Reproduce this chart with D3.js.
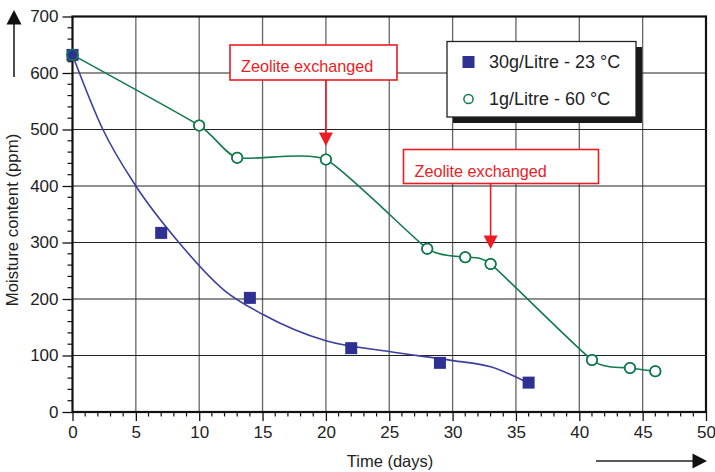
<!DOCTYPE html>
<html>
<head>
<meta charset="utf-8">
<script src="https://cdn.jsdelivr.net/npm/d3@7"></script>
<style>
  html, body { margin: 0; padding: 0; background: #fff; }
  svg { display: block; font-family: "Liberation Sans", Arial, Helvetica, sans-serif; }
</style>
</head>
<body>
<svg id="chart" width="715" height="472"></svg>
<script>
// 30 g/L zeolite at 23 °C: measured points
const days30g = [0, 7, 14, 22, 29, 36];
const moisture30g = [632, 317, 202, 113, 87, 52];
// smooth trend drawn through the 30 g/L measurements
const trendDays30g = [0, 2.4, 5, 8.4, 12, 15, 20, 25, 30, 33, 36];
const trendMoisture30g = [632, 500, 400, 300, 215, 173, 126, 107, 91, 80, 51];
// 1 g/L zeolite at 60 °C: measured points
const days1g = [0, 10, 13, 20, 28, 31, 33, 41, 44, 46];
const moisture1g = [632, 507, 450, 447, 289, 274, 262, 92, 78, 72];
// zeolite exchange events
const exchangeDays = [20, 33];
const exchangeLabel = "Zeolite exchanged";
const xTicks = [0, 5, 10, 15, 20, 25, 30, 35, 40, 45, 50];
const yTicks = [0, 100, 200, 300, 400, 500, 600, 700];
const legendLabels = ["30g/Litre - 23 \u00b0C", "1g/Litre - 60 \u00b0C"];

const svg = d3.select("#chart");
const x = d3.scaleLinear().domain([0, 50]).range([72.5, 706]);
const y = d3.scaleLinear().domain([0, 700]).range([412, 16.5]);

const blue = "#2e3192", blueLine = "#3b3f9e", green = "#127a4c", red = "#ec1c24";

// grid
const grid = svg.append("g");
grid.selectAll(".vg").data(xTicks.slice(1, -1)).enter().append("line")
  .attr("x1", d => x(d)).attr("x2", d => x(d)).attr("y1", y(0)).attr("y2", y(700))
  .attr("stroke", "#666").attr("stroke-width", 1.3);
grid.selectAll(".hg").data(yTicks.slice(1, -1)).enter().append("line")
  .attr("x1", x(0)).attr("x2", x(50)).attr("y1", d => y(d)).attr("y2", d => y(d))
  .attr("stroke", "#222").attr("stroke-width", 1.2);

// frame
svg.append("rect").attr("x", x(0)).attr("y", y(700))
  .attr("width", x(50) - x(0)).attr("height", y(0) - y(700))
  .attr("fill", "none").attr("stroke", "#111").attr("stroke-width", 2.2);

// axes
const xAxis = svg.append("g").attr("transform", `translate(0,${y(0)})`)
  .call(d3.axisBottom(x).tickValues(xTicks).tickSize(9).tickPadding(5).tickFormat(d3.format("d")));
const yAxis = svg.append("g").attr("transform", `translate(${x(0)},0)`)
  .call(d3.axisLeft(y).tickValues(yTicks).tickSize(10).tickPadding(4).tickFormat(d3.format("d")));
[xAxis, yAxis].forEach(a => {
  a.select(".domain").remove();
  a.selectAll(".tick line").attr("stroke", "#111").attr("stroke-width", 1.3);
  a.selectAll(".tick text").attr("font-size", 17).attr("fill", "#222")
    .attr("font-family", "Liberation Sans, Arial, sans-serif");
});
// minor ticks
svg.append("g").selectAll("line").data(d3.range(0, 51).filter(d => d % 5)).enter().append("line")
  .attr("x1", d => x(d)).attr("x2", d => x(d)).attr("y1", y(0)).attr("y2", y(0) + 4.5)
  .attr("stroke", "#111").attr("stroke-width", 1.2);
svg.append("g").selectAll("line").data(d3.range(0, 701, 20).filter(d => d % 100)).enter().append("line")
  .attr("x1", x(0) - 5).attr("x2", x(0)).attr("y1", d => y(d)).attr("y2", d => y(d))
  .attr("stroke", "#111").attr("stroke-width", 1.2);

// axis titles
svg.append("text").attr("x", 390).attr("y", 466.5).attr("text-anchor", "middle")
  .attr("font-size", 16.5).attr("fill", "#222").text("Time (days)");
svg.append("text").attr("transform", "translate(18,220) rotate(-90)").attr("text-anchor", "middle")
  .attr("font-size", 16.8).attr("fill", "#222").text("Moisture content (ppm)");

// direction arrows
svg.append("line").attr("x1", 14).attr("x2", 14).attr("y1", 77).attr("y2", 22)
  .attr("stroke", "#222").attr("stroke-width", 1.6);
svg.append("path").attr("d", "M14,10 L21.5,24.5 L6.5,24.5 Z").attr("fill", "#111");
svg.append("line").attr("x1", 596).attr("x2", 695).attr("y1", 461).attr("y2", 461)
  .attr("stroke", "#222").attr("stroke-width", 1.6);
svg.append("path").attr("d", "M707,461 L692.5,453.5 L692.5,468.5 Z").attr("fill", "#111");

// lines
const line = (curve) => d3.line().x(d => x(d[0])).y(d => y(d[1])).curve(curve);
svg.append("path").datum(d3.zip(days1g, moisture1g))
  .attr("d", line(d3.curveCardinal.tension(0.45)))
  .attr("fill", "none").attr("stroke", green).attr("stroke-width", 1.6);
svg.append("path").datum(d3.zip(trendDays30g, trendMoisture30g))
  .attr("d", line(d3.curveMonotoneX))
  .attr("fill", "none").attr("stroke", blueLine).attr("stroke-width", 1.6);

// markers
const pts1g = d3.zip(days1g, moisture1g);
svg.append("g").selectAll("circle").data(pts1g).enter().append("circle")
  .attr("cx", d => x(d[0])).attr("cy", d => y(d[1])).attr("r", 5.3)
  .attr("fill", "#fff").attr("stroke", green).attr("stroke-width", 1.5);
svg.append("g").selectAll("rect").data(d3.zip(days30g, moisture30g)).enter().append("rect")
  .attr("x", d => x(d[0]) - 6).attr("y", d => y(d[1]) - 6).attr("width", 12).attr("height", 12)
  .attr("fill", blue);
svg.append("g").selectAll("circle").data(pts1g).enter().append("circle")
  .attr("cx", d => x(d[0])).attr("cy", d => y(d[1])).attr("r", 5.3)
  .attr("fill", "none").attr("stroke", green).attr("stroke-width", 1.5);

// exchange annotations
const boxes = [
  { x0: 230, y0: 45, w: 167, h: 35, tipY: 146 },
  { x0: 403.5, y0: 149.5, w: 195, h: 34, tipY: 249 }
];
exchangeDays.forEach((day, i) => {
  const b = boxes[i];
  const g = svg.append("g");
  const ax = x(day);
  g.append("line").attr("x1", ax).attr("x2", ax).attr("y1", b.y0 + b.h).attr("y2", b.tipY - 10)
    .attr("stroke", red).attr("stroke-width", 1.6);
  g.append("path").attr("d", `M${ax},${b.tipY} L${ax - 7},${b.tipY - 13.5} L${ax + 7},${b.tipY - 13.5} Z`)
    .attr("fill", red);
  g.append("rect").attr("x", b.x0).attr("y", b.y0).attr("width", b.w).attr("height", b.h)
    .attr("fill", "#fff").attr("stroke", red).attr("stroke-width", 1.6);
  g.append("text").attr("x", b.x0 + 11).attr("y", b.y0 + 27).attr("font-size", 16.2)
    .attr("fill", red).text(exchangeLabel);
});

// legend
const lg = svg.append("g");
lg.append("rect").attr("x", 453).attr("y", 47).attr("width", 189).attr("height", 76).attr("fill", "#1a1a1a");
lg.append("rect").attr("x", 447).attr("y", 41.5).attr("width", 189).attr("height", 75.5)
  .attr("fill", "#fff").attr("stroke", "#222").attr("stroke-width", 1.3);
lg.append("rect").attr("x", 462.5).attr("y", 56).attr("width", 12).attr("height", 12).attr("fill", blue);
lg.append("circle").attr("cx", 468.5).attr("cy", 99).attr("r", 4.6)
  .attr("fill", "#fff").attr("stroke", green).attr("stroke-width", 1.5);
legendLabels.forEach((t, i) => {
  lg.append("text").attr("x", 489).attr("y", 67.5 + i * 37.5).attr("font-size", 18)
    .attr("fill", "#222").text(t);
});
</script>
</body>
</html>
